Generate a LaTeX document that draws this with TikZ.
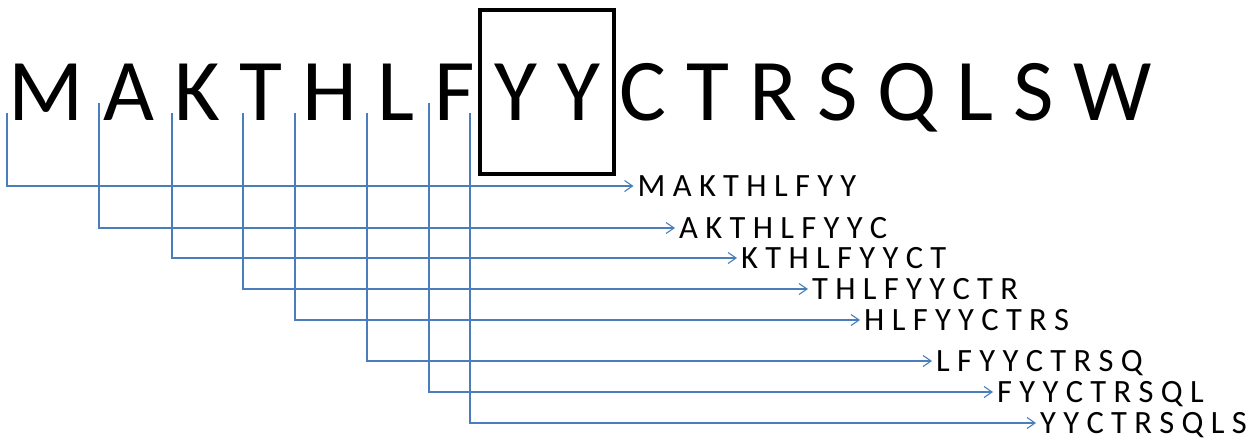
\documentclass[tikz,border=0pt]{standalone}
\usepackage{fontspec}
\setmainfont{Carlito}
\usetikzlibrary{arrows.meta}
\definecolor{linkblue}{HTML}{4A7EBB}
\tikzset{
  conn/.style={draw=linkblue, line width=1.1pt, -{Straight Barb[length=8pt,width=11pt,line width=1.1pt]}},
  bigseq/.style={inner sep=0pt, anchor=base west, font=\fontsize{88}{100}\selectfont},
  lbl/.style={anchor=west, inner xsep=4pt, inner ysep=0pt, text height=20.5pt, text depth=0pt, font=\fontsize{32.5}{38}\selectfont},
  hbox/.style={draw=black, line width=4pt}
}
\begin{document}
\begin{tikzpicture}[x=1pt, y=-1pt]
\useasboundingbox (0,0) rectangle (1258,440);
\node[bigseq] (seq) at (8,120) {M A K T H L F Y Y C T R S Q L S W};
\node[hbox, minimum width=134pt, minimum height=164pt, inner sep=0pt] (box) at (547,92) {};
% start points below the letters
\coordinate (s1) at (7,113);
\coordinate (s2) at (99,103);
\coordinate (s3) at (172,113);
\coordinate (s4) at (243,113);
\coordinate (s5) at (295,113);
\coordinate (s6) at (367,113);
\coordinate (s7) at (429,103);
\coordinate (s8) at (470,113);
% labels
\node[lbl] (l1) at (633.5,186) {M A K T H L F Y Y};
\node[lbl] (l2) at (675,228) {A K T H L F Y Y C};
\node[lbl] (l3) at (737,258) {K T H L F Y Y C T};
\node[lbl] (l4) at (808,289) {T H L F Y Y C T R};
\node[lbl] (l5) at (860,320) {H L F Y Y C T R S};
\node[lbl] (l6) at (932,361) {L F Y Y C T R S Q};
\node[lbl] (l7) at (993,392) {F Y Y C T R S Q L};
\node[lbl] (l8) at (1036,423) {Y Y C T R S Q L S};
\foreach \i in {1,...,8} {
  \draw[conn] (s\i) |- (l\i.west);
}
\end{tikzpicture}
\end{document}
